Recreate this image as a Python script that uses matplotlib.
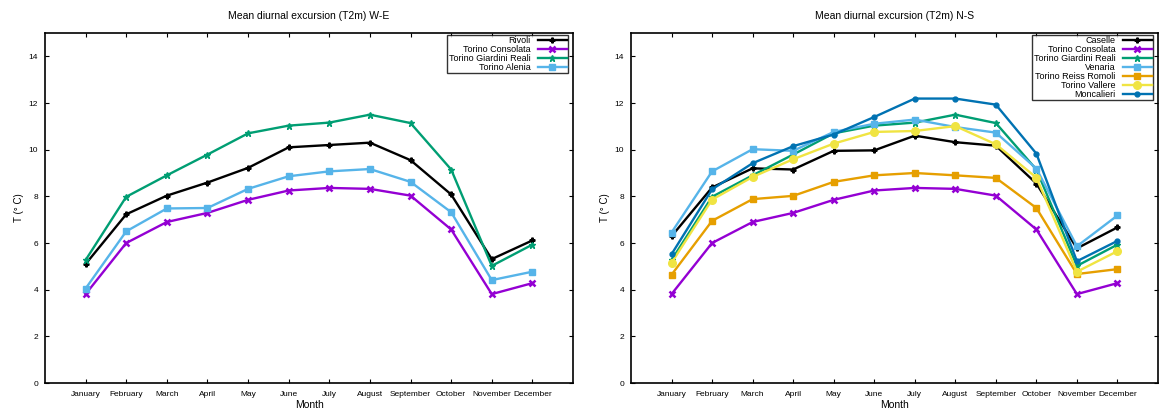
import matplotlib

matplotlib.use("Agg")
import matplotlib.pyplot as plt

plt.rcParams["font.family"] = ["Liberation Sans", "DejaVu Sans"]

months = ["January", "February", "March", "April", "May", "June",
          "July", "August", "September", "October", "November", "December"]

rivoli = [5.1, 7.23, 8.03, 8.59, 9.22, 10.1, 10.2, 10.3, 9.55, 8.08, 5.31, 6.11]
consolata = [3.81, 6.0, 6.9, 7.29, 7.85, 8.25, 8.36, 8.32, 8.03, 6.58, 3.81, 4.28]
giardini = [5.27, 7.98, 8.9, 9.79, 10.7, 11.03, 11.16, 11.5, 11.14, 9.15, 5.02, 5.93]
alenia = [4.05, 6.5, 7.48, 7.5, 8.32, 8.86, 9.07, 9.17, 8.62, 7.32, 4.41, 4.77]

caselle = [6.29, 8.38, 9.2, 9.15, 9.95, 9.97, 10.6, 10.32, 10.17, 8.55, 5.77, 6.67]
venaria = [6.45, 9.07, 10.02, 9.95, 10.76, 11.11, 11.29, 10.97, 10.73, 9.19, 5.86, 7.18]
reiss_romoli = [4.64, 6.95, 7.88, 8.02, 8.62, 8.9, 9.0, 8.9, 8.79, 7.5, 4.67, 4.88]
vallere = [5.15, 7.86, 8.83, 9.59, 10.26, 10.76, 10.8, 11.01, 10.23, 8.8, 4.77, 5.65]
moncalieri = [5.52, 8.3, 9.42, 10.15, 10.65, 11.4, 12.19, 12.19, 11.93, 9.83, 5.22, 6.09]

styles = {
    "Rivoli": dict(color="black", marker="P", ms=3.5),
    "Caselle": dict(color="black", marker="P", ms=3.5),
    "Torino Consolata": dict(color="#9400D3", marker="x", ms=4, mew=1.8),
    "Torino Giardini Reali": dict(color="#009E73", marker="*", ms=5),
    "Torino Alenia": dict(color="#56B4E9", marker="s", ms=5),
    "Venaria": dict(color="#56B4E9", marker="s", ms=5),
    "Torino Reiss Romoli": dict(color="#E69F00", marker="s", ms=4.5),
    "Torino Vallere": dict(color="#F0E442", marker="o", ms=5.5),
    "Moncalieri": dict(color="#0072B2", marker="o", ms=3.5),
}

fig = plt.figure(figsize=(11.61, 4.09), dpi=100)
ax1 = fig.add_axes([45 / 1161, 1 - 383 / 409, 528 / 1161, 350 / 409])
ax2 = fig.add_axes([631 / 1161, 1 - 383 / 409, 527 / 1161, 350 / 409])

x = list(range(len(months)))

panels = [
    (ax1, "Mean diurnal excursion (T2m) W-E",
     [("Rivoli", rivoli), ("Torino Consolata", consolata),
      ("Torino Giardini Reali", giardini), ("Torino Alenia", alenia)],
     (568 - 45) / 528),
    (ax2, "Mean diurnal excursion (T2m) N-S",
     [("Caselle", caselle), ("Torino Consolata", consolata),
      ("Torino Giardini Reali", giardini), ("Venaria", venaria),
      ("Torino Reiss Romoli", reiss_romoli), ("Torino Vallere", vallere),
      ("Moncalieri", moncalieri)],
     (1153 - 631) / 527),
]

for ax, title, series, legx in panels:
    for name, vals in series:
        ax.plot(x, vals, lw=1.7, label=name, **styles[name])
    ax.set_xlim(-1, 12)
    ax.set_ylim(0, 15)
    ax.set_yticks(range(0, 15, 2))
    ax.set_xticks(x)
    ax.set_xticklabels(months)
    ax.tick_params(direction="in", top=True, right=True, labelsize=6, length=3)
    ax.tick_params(axis="x", pad=6)
    ax.tick_params(axis="y", pad=5)
    ax.set_title(title, fontsize=7.5, pad=10)
    ax.set_xlabel("Month", fontsize=7.5, labelpad=1)
    ax.set_ylabel("T (° C)", fontsize=7, labelpad=3)
    for sp in ax.spines.values():
        sp.set_linewidth(1.2)
    leg = ax.legend(loc="upper right", bbox_to_anchor=(legx, 0.995),
                    markerfirst=False, fontsize=6.5, frameon=True,
                    fancybox=False, edgecolor="black", borderpad=0.15,
                    labelspacing=0.0, handlelength=3.2, handletextpad=0.8,
                    borderaxespad=0.0)
    leg.get_frame().set_linewidth(1.0)

fig.savefig("out.png", dpi=100)
